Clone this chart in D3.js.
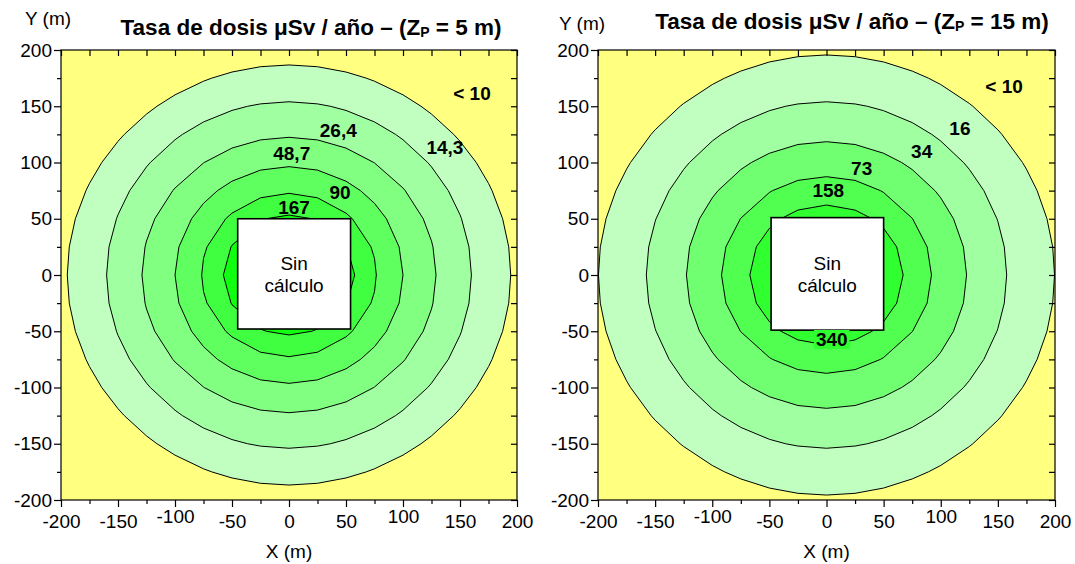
<!DOCTYPE html>
<html><head><meta charset="utf-8">
<script src="https://cdn.jsdelivr.net/npm/d3@7"></script>
<style>
body{margin:0;background:#fff;}
text{font-family:Arial,"Liberation Sans",sans-serif;fill:#000;}
</style>
</head><body>
<svg id="c" width="1075" height="564"></svg>
<script>
// ---------- data ----------
const majorTicks = [-200,-150,-100,-50,0,50,100,150,200];
const minorTicks = [-175,-125,-75,-25,25,75,125,175];
const gridStep = 25; // computation grid spacing (m)

// left panel (Zp = 5 m): contour radii (m), horizontal / vertical, outer -> inner
const leftRx = [194.5,160,129,100,76.6,57.6];
const leftRy = [186.7,154,122.4,96.3,72.6,53.3];
const leftFills = ["#c0ffc0","#a0ffa0","#80ff80","#60ff60","#40ff40","#10ff10"];
const leftLabels = ["< 10","14,3","26,4","48,7","90","167"];
const leftLabelX = [160.5,136.8,43.2,2.4,44.7,4.4];
const leftLabelY = [161.8,113.8,128.9,108.2,73.2,60.2];
const leftBox = [-45,54,-48,50];

// right panel (Zp = 15 m)
const rightRx = [199.6,157.7,122.6,91.9,67.1];
const rightRy = [195.6,154,118.5,87.4,62.2];
const rightFills = ["#c0ffc0","#a0ffa0","#70ff70","#50ff50","#30ff30"];
const rightLabels = ["< 10","16","34","73","158","340"];
const rightLabelX = [155.4,116.8,83.3,30.8,1.6,4.6];
const rightLabelY = [168,130.7,109.6,94.8,75.6,-57.2];
const rightBox = [-48.5,50,-49,51];

const bgColor = "#ffff80";

// ---------- drawing ----------
const svg = d3.select("#c");

function ringPoints(rx, ry, step){
  const pts=[];
  const kx=Math.floor(rx/step);
  for(let k=-kx;k<=kx;k++){
    const x=k*step; if(Math.abs(x)>=rx) continue;
    const y=ry*Math.sqrt(1-(x/rx)*(x/rx));
    pts.push([x,y],[x,-y]);
  }
  const ky=Math.floor(ry/step);
  for(let k=-ky;k<=ky;k++){
    const y=k*step; if(Math.abs(y)>=ry) continue;
    const x=rx*Math.sqrt(1-(y/ry)*(y/ry));
    pts.push([x,y],[-x,y]);
  }
  pts.sort((a,b)=>Math.atan2(a[1],a[0])-Math.atan2(b[1],b[0]));
  return pts;
}

function panel(opt){
  const {x0,x1,y0,y1,rx,ry,fills,labels,lx,ly,box,title,titleX,titleY,yLabX,yLabY,id,boxedLabel} = opt;
  const xs=d3.scaleLinear().domain([-200,200]).range([x0,x1]);
  const ys=d3.scaleLinear().domain([-200,200]).range([y1,y0]);
  const g=svg.append("g");
  g.append("clipPath").attr("id","clip"+id).append("rect")
    .attr("x",x0).attr("y",y0).attr("width",x1-x0).attr("height",y1-y0);
  g.append("rect").attr("x",x0).attr("y",y0).attr("width",x1-x0).attr("height",y1-y0).attr("fill",bgColor);
  const line=d3.line().x(d=>xs(d[0])).y(d=>ys(d[1]));
  const cg=g.append("g").attr("clip-path",`url(#clip${id})`);
  rx.forEach((r,i)=>{
    cg.append("path").attr("d",line(ringPoints(r,ry[i],gridStep))+"Z")
      .attr("fill",fills[i]).attr("stroke","#000").attr("stroke-width",1);
  });
  // blanked box
  g.append("rect").attr("x",xs(box[0])).attr("y",ys(box[3]))
    .attr("width",xs(box[1])-xs(box[0])).attr("height",ys(box[2])-ys(box[3]))
    .attr("fill","#fff").attr("stroke","#000").attr("stroke-width",1.6);
  const bx=(xs(box[0])+xs(box[1]))/2, by=(ys(box[2])+ys(box[3]))/2;
  g.append("text").attr("x",bx).attr("y",by-11).attr("text-anchor","middle").attr("dy","0.35em")
    .style("font-size","19px").text("Sin");
  g.append("text").attr("x",bx).attr("y",by+11).attr("text-anchor","middle").attr("dy","0.35em")
    .style("font-size","19px").text("cálculo");
  // contour labels
  labels.forEach((t,i)=>{
    const tx=g.append("text").attr("x",xs(lx[i])).attr("y",ys(ly[i])).attr("dy","0.35em")
      .attr("text-anchor","middle").style("font-size","19px").style("font-weight","bold").text(t);
    if(boxedLabel && boxedLabel.index===i){
      const bb=tx.node().getBBox();
      g.insert("rect",()=>tx.node()).attr("x",bb.x-2).attr("y",bb.y+1).attr("width",bb.width+4).attr("height",bb.height-2)
        .attr("fill",boxedLabel.fill);
    }
  });
  // frame
  g.append("rect").attr("x",x0).attr("y",y0).attr("width",x1-x0).attr("height",y1-y0)
    .attr("fill","none").attr("stroke","#000").attr("stroke-width",1.2);
  // axes
  const fmt=d=>String(d);
  const bot=g.append("g").attr("transform",`translate(0,${y1})`)
    .call(d3.axisBottom(xs).tickValues(majorTicks).tickSize(7).tickPadding(8).tickFormat(fmt));
  g.append("g").attr("transform",`translate(0,${y1})`)
    .call(d3.axisBottom(xs).tickValues(minorTicks).tickSize(4).tickFormat(""));
  const lef=g.append("g").attr("transform",`translate(${x0},0)`)
    .call(d3.axisLeft(ys).tickValues(majorTicks).tickSize(7).tickPadding(2).tickFormat(fmt));
  g.append("g").attr("transform",`translate(${x0},0)`)
    .call(d3.axisLeft(ys).tickValues(minorTicks).tickSize(4).tickFormat(""));
  g.append("g").attr("transform",`translate(0,${y0})`)
    .call(d3.axisBottom(xs).tickValues(majorTicks.concat(minorTicks)).tickSize(6).tickFormat(""));
  g.append("g").attr("transform",`translate(${x1},0)`)
    .call(d3.axisLeft(ys).tickValues(majorTicks.concat(minorTicks)).tickSize(6).tickFormat(""));
  g.selectAll(".domain").remove();
  g.selectAll(".tick line").attr("stroke","#000").attr("stroke-width",1.2);
  g.selectAll(".tick text").style("font-size","19px").attr("font-family",null).attr("fill","#000");
  bot.selectAll(".tick text").filter(d=>Math.abs(d)===100).attr("y",10);
  // axis titles
  g.append("text").attr("x",(x0+x1)/2).attr("y",558).attr("text-anchor","middle")
    .style("font-size","19px").text("X (m)");
  g.append("text").attr("x",yLabX).attr("y",yLabY).attr("text-anchor","middle")
    .style("font-size","19px").text("Y (m)");
  const tt=g.append("text").attr("x",titleX).attr("y",titleY).attr("text-anchor","middle")
    .style("font-size","22.5px").style("font-weight","bold");
  tt.append("tspan").text(title[0]);
  tt.append("tspan").attr("dy",2).style("font-size","14px").text("P");
  tt.append("tspan").attr("dy",-2).text(title[1]);
}

panel({id:"L",x0:61,x1:517,y0:50,y1:500,rx:leftRx,ry:leftRy,fills:leftFills,labels:leftLabels,
  lx:leftLabelX,ly:leftLabelY,box:leftBox,title:["Tasa de dosis μSv / año – (Z"," = 5 m)"],
  titleX:311,titleY:35,yLabX:48,yLabY:25});
panel({id:"R",x0:598,x1:1055,y0:50,y1:500,rx:rightRx,ry:rightRy,fills:rightFills,labels:rightLabels,
  lx:rightLabelX,ly:rightLabelY,box:rightBox,title:["Tasa de dosis μSv / año – (Z"," = 15 m)"],
  titleX:852,titleY:29,yLabX:582,yLabY:30,boxedLabel:{index:5,fill:"#30ff30"}});
</script>
</body></html>
